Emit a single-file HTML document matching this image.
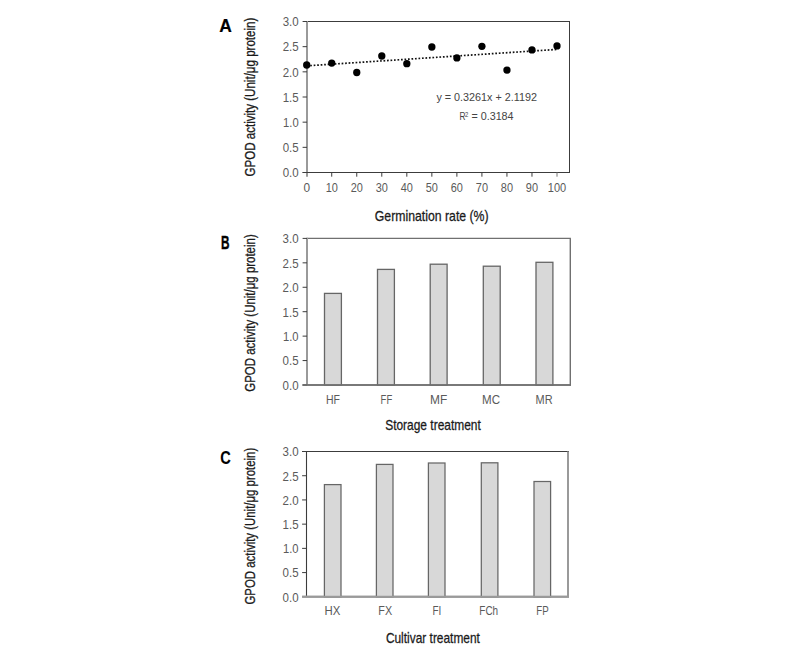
<!DOCTYPE html>
<html><head><meta charset="utf-8"><style>
html,body{margin:0;padding:0;background:#fff;width:800px;height:656px;overflow:hidden}
svg{display:block;font-family:"Liberation Sans", sans-serif}
</style></head><body>
<svg width="800" height="656" viewBox="0 0 800 656">
<rect width="800" height="656" fill="#fff"/>
<line x1="306.50" y1="21.50" x2="570.00" y2="21.50" stroke="#3c3c3c" stroke-width="1" />
<line x1="569.50" y1="21.50" x2="569.50" y2="172.50" stroke="#3c3c3c" stroke-width="1" />
<line x1="307.00" y1="21.00" x2="307.00" y2="176.80" stroke="#9a9a9a" stroke-width="2" />
<line x1="302.60" y1="172.50" x2="570.00" y2="172.50" stroke="#3c3c3c" stroke-width="1" />
<line x1="302.60" y1="172.50" x2="307.00" y2="172.50" stroke="#3c3c3c" stroke-width="1" />
<text x="298.70" y="177.30" font-size="12.4" text-anchor="end" fill="#5a5a5a" font-weight="normal" textLength="16.0" lengthAdjust="spacingAndGlyphs" >0.0</text>
<line x1="302.60" y1="147.33" x2="307.00" y2="147.33" stroke="#3c3c3c" stroke-width="1" />
<text x="298.70" y="152.13" font-size="12.4" text-anchor="end" fill="#5a5a5a" font-weight="normal" textLength="16.0" lengthAdjust="spacingAndGlyphs" >0.5</text>
<line x1="302.60" y1="122.17" x2="307.00" y2="122.17" stroke="#3c3c3c" stroke-width="1" />
<text x="298.70" y="126.97" font-size="12.4" text-anchor="end" fill="#5a5a5a" font-weight="normal" textLength="15.6" lengthAdjust="spacingAndGlyphs" >1.0</text>
<line x1="302.60" y1="97.00" x2="307.00" y2="97.00" stroke="#3c3c3c" stroke-width="1" />
<text x="298.70" y="101.80" font-size="12.4" text-anchor="end" fill="#5a5a5a" font-weight="normal" textLength="16.0" lengthAdjust="spacingAndGlyphs" >1.5</text>
<line x1="302.60" y1="71.83" x2="307.00" y2="71.83" stroke="#3c3c3c" stroke-width="1" />
<text x="298.70" y="76.63" font-size="12.4" text-anchor="end" fill="#5a5a5a" font-weight="normal" textLength="16.0" lengthAdjust="spacingAndGlyphs" >2.0</text>
<line x1="302.60" y1="46.67" x2="307.00" y2="46.67" stroke="#3c3c3c" stroke-width="1" />
<text x="298.70" y="51.47" font-size="12.4" text-anchor="end" fill="#5a5a5a" font-weight="normal" textLength="16.0" lengthAdjust="spacingAndGlyphs" >2.5</text>
<line x1="302.60" y1="21.50" x2="307.00" y2="21.50" stroke="#3c3c3c" stroke-width="1" />
<text x="298.70" y="26.30" font-size="12.4" text-anchor="end" fill="#5a5a5a" font-weight="normal" textLength="16.0" lengthAdjust="spacingAndGlyphs" >3.0</text>
<text x="306.70" y="191.90" font-size="12.4" text-anchor="middle" fill="#5a5a5a" font-weight="normal" textLength="6.6" lengthAdjust="spacingAndGlyphs" >0</text>
<line x1="331.73" y1="172.50" x2="331.73" y2="176.70" stroke="#3c3c3c" stroke-width="1" />
<text x="331.73" y="191.90" font-size="12.4" text-anchor="middle" fill="#5a5a5a" font-weight="normal" textLength="12.2" lengthAdjust="spacingAndGlyphs" >10</text>
<line x1="356.76" y1="172.50" x2="356.76" y2="176.70" stroke="#3c3c3c" stroke-width="1" />
<text x="356.76" y="191.90" font-size="12.4" text-anchor="middle" fill="#5a5a5a" font-weight="normal" textLength="12.2" lengthAdjust="spacingAndGlyphs" >20</text>
<line x1="381.79" y1="172.50" x2="381.79" y2="176.70" stroke="#3c3c3c" stroke-width="1" />
<text x="381.79" y="191.90" font-size="12.4" text-anchor="middle" fill="#5a5a5a" font-weight="normal" textLength="12.2" lengthAdjust="spacingAndGlyphs" >30</text>
<line x1="406.82" y1="172.50" x2="406.82" y2="176.70" stroke="#3c3c3c" stroke-width="1" />
<text x="406.82" y="191.90" font-size="12.4" text-anchor="middle" fill="#5a5a5a" font-weight="normal" textLength="12.2" lengthAdjust="spacingAndGlyphs" >40</text>
<line x1="431.85" y1="172.50" x2="431.85" y2="176.70" stroke="#3c3c3c" stroke-width="1" />
<text x="431.85" y="191.90" font-size="12.4" text-anchor="middle" fill="#5a5a5a" font-weight="normal" textLength="12.2" lengthAdjust="spacingAndGlyphs" >50</text>
<line x1="456.88" y1="172.50" x2="456.88" y2="176.70" stroke="#3c3c3c" stroke-width="1" />
<text x="456.88" y="191.90" font-size="12.4" text-anchor="middle" fill="#5a5a5a" font-weight="normal" textLength="12.2" lengthAdjust="spacingAndGlyphs" >60</text>
<line x1="481.91" y1="172.50" x2="481.91" y2="176.70" stroke="#3c3c3c" stroke-width="1" />
<text x="481.91" y="191.90" font-size="12.4" text-anchor="middle" fill="#5a5a5a" font-weight="normal" textLength="12.2" lengthAdjust="spacingAndGlyphs" >70</text>
<line x1="506.94" y1="172.50" x2="506.94" y2="176.70" stroke="#3c3c3c" stroke-width="1" />
<text x="506.94" y="191.90" font-size="12.4" text-anchor="middle" fill="#5a5a5a" font-weight="normal" textLength="12.2" lengthAdjust="spacingAndGlyphs" >80</text>
<line x1="531.97" y1="172.50" x2="531.97" y2="176.70" stroke="#3c3c3c" stroke-width="1" />
<text x="531.97" y="191.90" font-size="12.4" text-anchor="middle" fill="#5a5a5a" font-weight="normal" textLength="12.2" lengthAdjust="spacingAndGlyphs" >90</text>
<line x1="557.00" y1="172.50" x2="557.00" y2="176.70" stroke="#777" stroke-width="1" />
<text x="557.00" y="191.90" font-size="12.4" text-anchor="middle" fill="#5a5a5a" font-weight="normal" textLength="18.4" lengthAdjust="spacingAndGlyphs" >100</text>
<line x1="306.70" y1="65.83" x2="557.00" y2="49.42" stroke="#111" stroke-width="1.7" stroke-dasharray="1.7 1.8"/>
<circle cx="306.70" cy="65.0" r="3.65" fill="#000"/>
<circle cx="331.73" cy="63.1" r="3.65" fill="#000"/>
<circle cx="356.76" cy="72.5" r="3.65" fill="#000"/>
<circle cx="381.79" cy="56.0" r="3.65" fill="#000"/>
<circle cx="406.82" cy="63.7" r="3.65" fill="#000"/>
<circle cx="431.85" cy="47.0" r="3.65" fill="#000"/>
<circle cx="456.88" cy="57.9" r="3.65" fill="#000"/>
<circle cx="481.91" cy="46.3" r="3.65" fill="#000"/>
<circle cx="506.94" cy="70.1" r="3.65" fill="#000"/>
<circle cx="531.97" cy="49.9" r="3.65" fill="#000"/>
<circle cx="557.00" cy="45.9" r="3.65" fill="#000"/>
<text x="436.40" y="101.00" font-size="11.8" text-anchor="start" fill="#444" font-weight="normal" textLength="100.6" lengthAdjust="spacingAndGlyphs" >y = 0.3261x + 2.1192</text>
<text x="459.60" y="120.00" font-size="11.8" text-anchor="start" fill="#444" font-weight="normal" textLength="6.0" lengthAdjust="spacingAndGlyphs" >R</text>
<text x="464.90" y="117.00" font-size="7.2" text-anchor="start" fill="#444" font-weight="normal" textLength="3.3" lengthAdjust="spacingAndGlyphs" >2</text>
<text x="471.40" y="120.00" font-size="11.8" text-anchor="start" fill="#444" font-weight="normal" textLength="42.2" lengthAdjust="spacingAndGlyphs" >= 0.3184</text>
<text x="374.80" y="220.80" font-size="14.8" fill="#1a1a1a" stroke="#1a1a1a" stroke-width="0.28" textLength="113.8" lengthAdjust="spacingAndGlyphs">Germination rate (%)</text>
<text x="219.15" y="31.90" font-size="18.72" fill="#000" stroke="#000" stroke-width="0.2" font-weight="bold" textLength="12.6" lengthAdjust="spacingAndGlyphs">A</text>
<text transform="translate(254.80,176.50) rotate(-90)" x="0" y="0" font-size="14.0" fill="#1a1a1a" stroke="#1a1a1a" stroke-width="0.28" textLength="158.8" lengthAdjust="spacingAndGlyphs">GPOD activity (Unit/μg protein)</text>
<line x1="307.00" y1="238.40" x2="570.90" y2="238.40" stroke="#707070" stroke-width="1.4" />
<line x1="570.30" y1="238.40" x2="570.30" y2="385.60" stroke="#707070" stroke-width="1.4" />
<line x1="307.00" y1="237.80" x2="307.00" y2="385.00" stroke="#9a9a9a" stroke-width="2" />
<line x1="302.60" y1="385.00" x2="570.90" y2="385.00" stroke="#707070" stroke-width="1.4" />
<line x1="302.60" y1="385.00" x2="307.00" y2="385.00" stroke="#3c3c3c" stroke-width="1" />
<text x="298.60" y="389.80" font-size="12.4" text-anchor="end" fill="#5a5a5a" font-weight="normal" textLength="16.0" lengthAdjust="spacingAndGlyphs" >0.0</text>
<line x1="302.60" y1="360.57" x2="307.00" y2="360.57" stroke="#3c3c3c" stroke-width="1" />
<text x="298.60" y="365.37" font-size="12.4" text-anchor="end" fill="#5a5a5a" font-weight="normal" textLength="16.0" lengthAdjust="spacingAndGlyphs" >0.5</text>
<line x1="302.60" y1="336.13" x2="307.00" y2="336.13" stroke="#3c3c3c" stroke-width="1" />
<text x="298.60" y="340.93" font-size="12.4" text-anchor="end" fill="#5a5a5a" font-weight="normal" textLength="15.6" lengthAdjust="spacingAndGlyphs" >1.0</text>
<line x1="302.60" y1="311.70" x2="307.00" y2="311.70" stroke="#3c3c3c" stroke-width="1" />
<text x="298.60" y="316.50" font-size="12.4" text-anchor="end" fill="#5a5a5a" font-weight="normal" textLength="16.0" lengthAdjust="spacingAndGlyphs" >1.5</text>
<line x1="302.60" y1="287.27" x2="307.00" y2="287.27" stroke="#3c3c3c" stroke-width="1" />
<text x="298.60" y="292.07" font-size="12.4" text-anchor="end" fill="#5a5a5a" font-weight="normal" textLength="16.0" lengthAdjust="spacingAndGlyphs" >2.0</text>
<line x1="302.60" y1="262.83" x2="307.00" y2="262.83" stroke="#3c3c3c" stroke-width="1" />
<text x="298.60" y="267.63" font-size="12.4" text-anchor="end" fill="#5a5a5a" font-weight="normal" textLength="16.0" lengthAdjust="spacingAndGlyphs" >2.5</text>
<line x1="302.60" y1="238.40" x2="307.00" y2="238.40" stroke="#3c3c3c" stroke-width="1" />
<text x="298.60" y="243.20" font-size="12.4" text-anchor="end" fill="#5a5a5a" font-weight="normal" textLength="16.0" lengthAdjust="spacingAndGlyphs" >3.0</text>
<rect x="324.50" y="293.4" width="16.9" height="91.60" fill="#d8d8d8" stroke="#666" stroke-width="1.3"/>
<text x="333.00" y="403.90" font-size="12.7" text-anchor="middle" fill="#5a5a5a" font-weight="normal" textLength="14.0" lengthAdjust="spacingAndGlyphs" >HF</text>
<rect x="377.50" y="269.4" width="16.9" height="115.60" fill="#d8d8d8" stroke="#666" stroke-width="1.3"/>
<text x="386.40" y="403.90" font-size="12.7" text-anchor="middle" fill="#5a5a5a" font-weight="normal" textLength="11.6" lengthAdjust="spacingAndGlyphs" >FF</text>
<rect x="430.20" y="264.2" width="16.9" height="120.80" fill="#d8d8d8" stroke="#666" stroke-width="1.3"/>
<text x="438.60" y="403.90" font-size="12.7" text-anchor="middle" fill="#5a5a5a" font-weight="normal" textLength="17.2" lengthAdjust="spacingAndGlyphs" >MF</text>
<rect x="483.30" y="266.2" width="16.9" height="118.80" fill="#d8d8d8" stroke="#666" stroke-width="1.3"/>
<text x="491.00" y="403.90" font-size="12.7" text-anchor="middle" fill="#5a5a5a" font-weight="normal" textLength="18.0" lengthAdjust="spacingAndGlyphs" >MC</text>
<rect x="536.00" y="262.3" width="16.9" height="122.70" fill="#d8d8d8" stroke="#666" stroke-width="1.3"/>
<text x="544.10" y="403.90" font-size="12.7" text-anchor="middle" fill="#5a5a5a" font-weight="normal" textLength="17.0" lengthAdjust="spacingAndGlyphs" >MR</text>
<line x1="302.60" y1="385.00" x2="570.90" y2="385.00" stroke="#707070" stroke-width="1.4" />
<text x="385.20" y="430.10" font-size="14.8" fill="#1a1a1a" stroke="#1a1a1a" stroke-width="0.28" textLength="95.6" lengthAdjust="spacingAndGlyphs">Storage treatment</text>
<text x="221.05" y="249.30" font-size="18.72" fill="#000" stroke="#000" stroke-width="0.45" font-weight="bold" textLength="8.5" lengthAdjust="spacingAndGlyphs">B</text>
<text transform="translate(255.00,391.70) rotate(-90)" x="0" y="0" font-size="14.0" fill="#1a1a1a" stroke="#1a1a1a" stroke-width="0.28" textLength="157.4" lengthAdjust="spacingAndGlyphs">GPOD activity (Unit/μg protein)</text>
<line x1="302.10" y1="451.50" x2="569.00" y2="451.50" stroke="#3c3c3c" stroke-width="1.1" />
<line x1="568.00" y1="451.50" x2="568.00" y2="596.80" stroke="#9a9a9a" stroke-width="2" />
<line x1="306.50" y1="451.50" x2="306.50" y2="596.80" stroke="#3c3c3c" stroke-width="1.1" />
<line x1="302.10" y1="596.80" x2="569.00" y2="596.80" stroke="#9a9a9a" stroke-width="2" />
<text x="298.60" y="601.60" font-size="12.4" text-anchor="end" fill="#5a5a5a" font-weight="normal" textLength="16.0" lengthAdjust="spacingAndGlyphs" >0.0</text>
<line x1="302.10" y1="572.58" x2="306.50" y2="572.58" stroke="#3c3c3c" stroke-width="1" />
<text x="298.60" y="577.38" font-size="12.4" text-anchor="end" fill="#5a5a5a" font-weight="normal" textLength="16.0" lengthAdjust="spacingAndGlyphs" >0.5</text>
<line x1="302.10" y1="548.37" x2="306.50" y2="548.37" stroke="#3c3c3c" stroke-width="1" />
<text x="298.60" y="553.17" font-size="12.4" text-anchor="end" fill="#5a5a5a" font-weight="normal" textLength="15.6" lengthAdjust="spacingAndGlyphs" >1.0</text>
<line x1="302.10" y1="524.15" x2="306.50" y2="524.15" stroke="#3c3c3c" stroke-width="1" />
<text x="298.60" y="528.95" font-size="12.4" text-anchor="end" fill="#5a5a5a" font-weight="normal" textLength="16.0" lengthAdjust="spacingAndGlyphs" >1.5</text>
<line x1="302.10" y1="499.93" x2="306.50" y2="499.93" stroke="#3c3c3c" stroke-width="1" />
<text x="298.60" y="504.73" font-size="12.4" text-anchor="end" fill="#5a5a5a" font-weight="normal" textLength="16.0" lengthAdjust="spacingAndGlyphs" >2.0</text>
<line x1="302.10" y1="475.72" x2="306.50" y2="475.72" stroke="#3c3c3c" stroke-width="1" />
<text x="298.60" y="480.52" font-size="12.4" text-anchor="end" fill="#5a5a5a" font-weight="normal" textLength="16.0" lengthAdjust="spacingAndGlyphs" >2.5</text>
<line x1="302.10" y1="451.50" x2="306.50" y2="451.50" stroke="#3c3c3c" stroke-width="1" />
<text x="298.60" y="456.30" font-size="12.4" text-anchor="end" fill="#5a5a5a" font-weight="normal" textLength="16.0" lengthAdjust="spacingAndGlyphs" >3.0</text>
<rect x="324.40" y="484.6" width="16.6" height="112.20" fill="#d8d8d8" stroke="#666" stroke-width="1.25"/>
<text x="332.45" y="614.80" font-size="12.7" text-anchor="middle" fill="#5a5a5a" font-weight="normal" textLength="15.8" lengthAdjust="spacingAndGlyphs" >HX</text>
<rect x="376.40" y="464.4" width="16.6" height="132.40" fill="#d8d8d8" stroke="#666" stroke-width="1.25"/>
<text x="385.20" y="614.80" font-size="12.7" text-anchor="middle" fill="#5a5a5a" font-weight="normal" textLength="13.8" lengthAdjust="spacingAndGlyphs" >FX</text>
<rect x="428.40" y="463.0" width="16.6" height="133.80" fill="#d8d8d8" stroke="#666" stroke-width="1.25"/>
<text x="436.95" y="614.80" font-size="12.7" text-anchor="middle" fill="#5a5a5a" font-weight="normal" textLength="8.8" lengthAdjust="spacingAndGlyphs" >FI</text>
<rect x="481.30" y="462.8" width="16.6" height="134.00" fill="#d8d8d8" stroke="#666" stroke-width="1.25"/>
<text x="488.70" y="614.80" font-size="12.7" text-anchor="middle" fill="#5a5a5a" font-weight="normal" textLength="18.8" lengthAdjust="spacingAndGlyphs" >FCh</text>
<rect x="534.00" y="481.5" width="16.6" height="115.30" fill="#d8d8d8" stroke="#666" stroke-width="1.25"/>
<text x="542.50" y="614.80" font-size="12.7" text-anchor="middle" fill="#5a5a5a" font-weight="normal" textLength="12.4" lengthAdjust="spacingAndGlyphs" >FP</text>
<line x1="302.10" y1="596.80" x2="569.00" y2="596.80" stroke="#9a9a9a" stroke-width="2" />
<text x="385.90" y="643.20" font-size="14.8" fill="#1a1a1a" stroke="#1a1a1a" stroke-width="0.28" textLength="94.0" lengthAdjust="spacingAndGlyphs">Cultivar treatment</text>
<text x="220.25" y="464.30" font-size="19.01" fill="#000" stroke="#000" stroke-width="0.1" font-weight="bold" textLength="10.5" lengthAdjust="spacingAndGlyphs">C</text>
<text transform="translate(255.40,604.50) rotate(-90)" x="0" y="0" font-size="14.0" fill="#1a1a1a" stroke="#1a1a1a" stroke-width="0.28" textLength="156.7" lengthAdjust="spacingAndGlyphs">GPOD activity (Unit/μg protein)</text>
</svg>
</body></html>
